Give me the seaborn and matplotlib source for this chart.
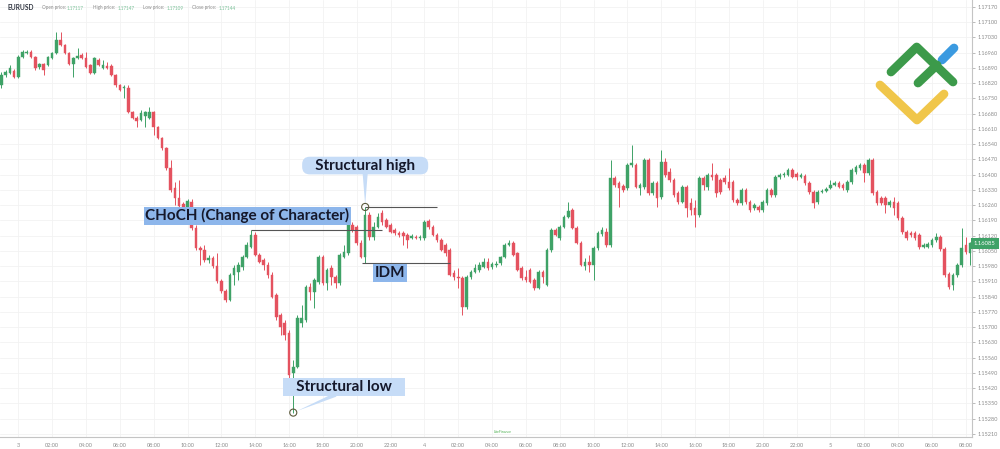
import numpy as np
import pandas as pd
import seaborn as sns
import matplotlib.pyplot as plt
from matplotlib.transforms import blended_transform_factory

# EURUSD 15-minute candles
opens = [
    1.16812, 1.16858, 1.16867, 1.16876, 1.16849, 1.16940, 1.16959, 1.16963, 1.16940, 1.16895,
    1.16909, 1.16904, 1.16936, 1.16959, 1.17018, 1.16995, 1.16959, 1.16909, 1.16936, 1.16950,
    1.16936, 1.16904, 1.16867, 1.16927, 1.16890, 1.16899, 1.16899, 1.16858, 1.16812, 1.16798,
    1.16798, 1.16688, 1.16660, 1.16651, 1.16669, 1.16660, 1.16688, 1.16619, 1.16568, 1.16523,
    1.16431, 1.16339, 1.16293, 1.16266, 1.16247, 1.16275, 1.16155, 1.16063, 1.16055, 1.16009,
    1.16018, 1.15981, 1.15912, 1.15866, 1.15825, 1.15940, 1.15954, 1.15977, 1.16023, 1.16068,
    1.16123, 1.16032, 1.16009, 1.15986, 1.15940, 1.15848, 1.15756, 1.15719, 1.15673, 1.15490,
    1.15518, 1.15719, 1.15733, 1.15885, 1.15862, 1.15908, 1.16023, 1.15903, 1.15972, 1.15931,
    1.15903, 1.16023, 1.16041, 1.16169, 1.16160, 1.16087, 1.16023, 1.16215, 1.16114, 1.16160,
    1.16224, 1.16192, 1.16169, 1.16146, 1.16132, 1.16132, 1.16123, 1.16109, 1.16114, 1.16109,
    1.16109, 1.16187, 1.16160, 1.16123, 1.16100, 1.16077, 1.16055, 1.15949, 1.15931, 1.15926,
    1.15793, 1.15931, 1.15954, 1.15963, 1.15977, 1.16000, 1.15977, 1.15986, 1.15995, 1.16023,
    1.16077, 1.16087, 1.16041, 1.15972, 1.15931, 1.15963, 1.15917, 1.15880, 1.15954, 1.15894,
    1.16055, 1.16146, 1.16109, 1.16160, 1.16206, 1.16238, 1.16155, 1.16087, 1.15981, 1.16000,
    1.15986, 1.16063, 1.16128, 1.16137, 1.16077, 1.16385, 1.16362, 1.16348, 1.16339, 1.16445,
    1.16445, 1.16339, 1.16344, 1.16468, 1.16316, 1.16362, 1.16298, 1.16458, 1.16413, 1.16376,
    1.16316, 1.16275, 1.16344, 1.16270, 1.16247, 1.16215, 1.16385, 1.16344, 1.16399, 1.16399,
    1.16376, 1.16385, 1.16367, 1.16367, 1.16284, 1.16270, 1.16330, 1.16275, 1.16247, 1.16252,
    1.16238, 1.16270, 1.16330, 1.16307, 1.16390, 1.16399, 1.16399, 1.16422, 1.16403, 1.16390,
    1.16394, 1.16362, 1.16321, 1.16275, 1.16321, 1.16325, 1.16339, 1.16353, 1.16362, 1.16353,
    1.16330, 1.16367, 1.16413, 1.16431, 1.16445, 1.16408, 1.16468, 1.16321, 1.16293, 1.16293,
    1.16261, 1.16275, 1.16270, 1.16201, 1.16137, 1.16132, 1.16132, 1.16123, 1.16068, 1.16068,
    1.16077, 1.16100, 1.16114, 1.16059, 1.15944, 1.15894, 1.15940, 1.15986, 1.16077, 1.16041,
]
highs = [
    1.16872, 1.16881, 1.16904, 1.16886, 1.16950, 1.16973, 1.16973, 1.16973, 1.16945, 1.16913,
    1.16913, 1.16945, 1.16963, 1.17055, 1.17055, 1.17000, 1.16963, 1.16940, 1.16982, 1.16959,
    1.16963, 1.16909, 1.16940, 1.16936, 1.16927, 1.16918, 1.16909, 1.16863, 1.16817, 1.16812,
    1.16812, 1.16692, 1.16669, 1.16697, 1.16692, 1.16711, 1.16692, 1.16623, 1.16573, 1.16527,
    1.16468, 1.16367, 1.16376, 1.16275, 1.16289, 1.16289, 1.16169, 1.16073, 1.16077, 1.16032,
    1.16027, 1.16041, 1.15921, 1.15875, 1.15949, 1.15986, 1.16000, 1.16032, 1.16091, 1.16146,
    1.16137, 1.16041, 1.16018, 1.16000, 1.15954, 1.15857, 1.15765, 1.15733, 1.15687, 1.15550,
    1.15756, 1.15802, 1.15894, 1.15903, 1.15926, 1.16032, 1.16032, 1.15972, 1.15986, 1.15940,
    1.16041, 1.16077, 1.16183, 1.16183, 1.16169, 1.16100, 1.16252, 1.16229, 1.16183, 1.16224,
    1.16238, 1.16201, 1.16178, 1.16155, 1.16141, 1.16141, 1.16132, 1.16128, 1.16123, 1.16123,
    1.16192, 1.16197, 1.16169, 1.16132, 1.16109, 1.16087, 1.16063, 1.15963, 1.15972, 1.15935,
    1.15940, 1.15963, 1.15991, 1.16000, 1.16018, 1.16018, 1.16000, 1.16004, 1.16027, 1.16087,
    1.16100, 1.16096, 1.16046, 1.15981, 1.15963, 1.15972, 1.15926, 1.15963, 1.15963, 1.16063,
    1.16155, 1.16155, 1.16169, 1.16215, 1.16275, 1.16247, 1.16164, 1.16096, 1.16018, 1.16032,
    1.16073, 1.16141, 1.16160, 1.16155, 1.16468, 1.16394, 1.16371, 1.16358, 1.16454, 1.16536,
    1.16454, 1.16362, 1.16477, 1.16477, 1.16371, 1.16371, 1.16514, 1.16477, 1.16431, 1.16385,
    1.16325, 1.16353, 1.16353, 1.16293, 1.16284, 1.16394, 1.16394, 1.16408, 1.16454, 1.16408,
    1.16385, 1.16399, 1.16431, 1.16376, 1.16293, 1.16339, 1.16339, 1.16284, 1.16270, 1.16261,
    1.16284, 1.16339, 1.16339, 1.16399, 1.16408, 1.16413, 1.16431, 1.16431, 1.16413, 1.16408,
    1.16403, 1.16371, 1.16330, 1.16330, 1.16335, 1.16344, 1.16376, 1.16371, 1.16371, 1.16362,
    1.16376, 1.16431, 1.16445, 1.16454, 1.16454, 1.16477, 1.16477, 1.16330, 1.16302, 1.16302,
    1.16284, 1.16298, 1.16279, 1.16210, 1.16146, 1.16141, 1.16141, 1.16132, 1.16087, 1.16091,
    1.16109, 1.16132, 1.16123, 1.16068, 1.15954, 1.15949, 1.15995, 1.16155, 1.16114, 1.16091,
]
lows = [
    1.16798, 1.16849, 1.16863, 1.16845, 1.16845, 1.16936, 1.16954, 1.16936, 1.16881, 1.16886,
    1.16858, 1.16899, 1.16931, 1.16954, 1.16991, 1.16954, 1.16904, 1.16849, 1.16931, 1.16931,
    1.16890, 1.16863, 1.16863, 1.16899, 1.16886, 1.16886, 1.16853, 1.16803, 1.16784, 1.16752,
    1.16683, 1.16656, 1.16619, 1.16646, 1.16619, 1.16656, 1.16582, 1.16564, 1.16514, 1.16422,
    1.16321, 1.16261, 1.16247, 1.16238, 1.16243, 1.16146, 1.16055, 1.15986, 1.16000, 1.15995,
    1.15972, 1.15903, 1.15857, 1.15816, 1.15820, 1.15894, 1.15917, 1.15963, 1.16018, 1.16063,
    1.16027, 1.15995, 1.15963, 1.15926, 1.15834, 1.15733, 1.15664, 1.15641, 1.15467, 1.15308,
    1.15513, 1.15701, 1.15724, 1.15825, 1.15788, 1.15899, 1.15894, 1.15871, 1.15894, 1.15880,
    1.15894, 1.16018, 1.16032, 1.16137, 1.16077, 1.16018, 1.15995, 1.16100, 1.16100, 1.16155,
    1.16169, 1.16155, 1.16132, 1.16123, 1.16114, 1.16077, 1.16063, 1.16105, 1.16105, 1.16100,
    1.16100, 1.16151, 1.16118, 1.16091, 1.16050, 1.16027, 1.15935, 1.15917, 1.15880, 1.15756,
    1.15784, 1.15922, 1.15949, 1.15954, 1.15972, 1.15963, 1.15968, 1.15977, 1.15986, 1.16018,
    1.16073, 1.16027, 1.15958, 1.15917, 1.15908, 1.15903, 1.15871, 1.15875, 1.15903, 1.15889,
    1.16046, 1.16118, 1.16100, 1.16155, 1.16201, 1.16151, 1.16082, 1.15981, 1.15963, 1.15954,
    1.15917, 1.16055, 1.16118, 1.16068, 1.16068, 1.16344, 1.16252, 1.16321, 1.16330, 1.16436,
    1.16339, 1.16307, 1.16335, 1.16307, 1.16307, 1.16252, 1.16289, 1.16390, 1.16367, 1.16298,
    1.16266, 1.16270, 1.16206, 1.16215, 1.16160, 1.16206, 1.16330, 1.16330, 1.16376, 1.16298,
    1.16312, 1.16358, 1.16330, 1.16275, 1.16261, 1.16261, 1.16266, 1.16229, 1.16238, 1.16229,
    1.16229, 1.16261, 1.16298, 1.16298, 1.16381, 1.16390, 1.16394, 1.16385, 1.16376, 1.16385,
    1.16353, 1.16312, 1.16247, 1.16266, 1.16316, 1.16321, 1.16335, 1.16348, 1.16339, 1.16330,
    1.16321, 1.16358, 1.16403, 1.16422, 1.16367, 1.16399, 1.16307, 1.16261, 1.16261, 1.16224,
    1.16252, 1.16215, 1.16192, 1.16128, 1.16100, 1.16114, 1.16100, 1.16059, 1.16063, 1.16063,
    1.16068, 1.16091, 1.16050, 1.15931, 1.15875, 1.15871, 1.15931, 1.15977, 1.16036, 1.15986,
]
closes = [
    1.16858, 1.16872, 1.16890, 1.16849, 1.16940, 1.16963, 1.16963, 1.16940, 1.16890, 1.16909,
    1.16881, 1.16940, 1.16959, 1.17018, 1.16995, 1.16959, 1.16909, 1.16936, 1.16945, 1.16936,
    1.16895, 1.16867, 1.16936, 1.16904, 1.16904, 1.16890, 1.16858, 1.16812, 1.16789, 1.16803,
    1.16688, 1.16660, 1.16646, 1.16683, 1.16688, 1.16688, 1.16619, 1.16568, 1.16523, 1.16431,
    1.16330, 1.16293, 1.16256, 1.16247, 1.16279, 1.16155, 1.16063, 1.16055, 1.16009, 1.16018,
    1.15981, 1.15912, 1.15866, 1.15825, 1.15940, 1.15972, 1.15986, 1.16023, 1.16077, 1.16123,
    1.16032, 1.16000, 1.15986, 1.15940, 1.15839, 1.15747, 1.15701, 1.15664, 1.15481, 1.15518,
    1.15742, 1.15742, 1.15885, 1.15862, 1.15917, 1.16023, 1.15903, 1.15963, 1.15931, 1.15903,
    1.16032, 1.16046, 1.16169, 1.16146, 1.16087, 1.16023, 1.16215, 1.16114, 1.16160, 1.16206,
    1.16183, 1.16160, 1.16137, 1.16132, 1.16123, 1.16118, 1.16100, 1.16118, 1.16109, 1.16114,
    1.16183, 1.16160, 1.16123, 1.16100, 1.16055, 1.16041, 1.15940, 1.15931, 1.15926, 1.15793,
    1.15931, 1.15954, 1.15972, 1.15986, 1.16000, 1.15972, 1.15991, 1.15991, 1.16023, 1.16077,
    1.16087, 1.16032, 1.15963, 1.15926, 1.15917, 1.15908, 1.15880, 1.15954, 1.15931, 1.16055,
    1.16146, 1.16123, 1.16160, 1.16206, 1.16233, 1.16155, 1.16087, 1.15986, 1.16000, 1.15986,
    1.16063, 1.16132, 1.16146, 1.16077, 1.16385, 1.16353, 1.16339, 1.16330, 1.16445, 1.16454,
    1.16344, 1.16353, 1.16468, 1.16316, 1.16362, 1.16293, 1.16458, 1.16399, 1.16376, 1.16307,
    1.16275, 1.16344, 1.16247, 1.16238, 1.16215, 1.16385, 1.16353, 1.16399, 1.16390, 1.16316,
    1.16321, 1.16367, 1.16339, 1.16284, 1.16270, 1.16330, 1.16275, 1.16238, 1.16261, 1.16238,
    1.16275, 1.16330, 1.16307, 1.16390, 1.16399, 1.16403, 1.16422, 1.16390, 1.16390, 1.16399,
    1.16362, 1.16321, 1.16270, 1.16321, 1.16325, 1.16335, 1.16353, 1.16362, 1.16344, 1.16339,
    1.16367, 1.16422, 1.16436, 1.16445, 1.16408, 1.16468, 1.16316, 1.16270, 1.16270, 1.16261,
    1.16275, 1.16247, 1.16201, 1.16137, 1.16109, 1.16123, 1.16109, 1.16068, 1.16077, 1.16082,
    1.16100, 1.16114, 1.16059, 1.15940, 1.15885, 1.15940, 1.15986, 1.16063, 1.16046, 1.16085,
]

x_tick_labels = ["3", "02:00", "04:00", "06:00", "08:00", "10:00", "12:00", "14:00",
                 "16:00", "18:00", "20:00", "22:00", "4", "02:00", "04:00", "06:00",
                 "08:00", "10:00", "12:00", "14:00", "16:00", "18:00", "20:00", "22:00",
                 "5", "02:00", "04:00", "06:00", "08:00"]
y_ticks = [1.15210, 1.15280, 1.15350, 1.15420, 1.15490, 1.15560, 1.15630, 1.15700,
           1.15770, 1.15840, 1.15910, 1.15980, 1.16050, 1.16120, 1.16190, 1.16260,
           1.16330, 1.16400, 1.16470, 1.16540, 1.16610, 1.16680, 1.16750, 1.16820,
           1.16890, 1.16960, 1.17030, 1.17100, 1.17170]
header_names = ["Open price:", "High price:", "Low price:", "Close price:"]
header_values = ["1.17117", "1.17147", "1.17109", "1.17144"]

sns.set_theme(style="white")
plt.rcParams['font.family'] = ['Lato', 'DejaVu Sans']

df = pd.DataFrame({'open': opens, 'high': highs, 'low': lows, 'close': closes})
df['i'] = np.arange(len(df))
green, red = '#3fa267', '#e4525f'
df['color'] = np.where(df['close'] >= df['open'], green, red)

fig = plt.figure(figsize=(10, 4.49), dpi=100)
ax = fig.add_axes([0, 12 / 449, 0.972, 437 / 449])

# candles
ax.vlines(df['i'], df['low'], df['high'], colors=df['color'], lw=0.7, zorder=2)
ax.bar(df['i'], df['close'] - df['open'], bottom=df['open'], width=0.62,
       color=df['color'], edgecolor=df['color'], linewidth=0.3, zorder=3)

ax.set_xlim(-0.33, 229.46)
ax.set_ylim(1.15196, 1.17202)
ax.set_xticks(4 + 8 * np.arange(len(x_tick_labels)))
ax.set_xticklabels(x_tick_labels)
ax.set_yticks(y_ticks)
ax.set_yticklabels([f"{v:.5f}" for v in y_ticks])
ax.yaxis.tick_right()
ax.grid(True, color='#f2f2f2', lw=0.6)
ax.set_axisbelow(True)
for s in ['top', 'left']:
    ax.spines[s].set_visible(False)
for s in ['right', 'bottom']:
    ax.spines[s].set_color('#c4c4c4')
    ax.spines[s].set_linewidth(0.8)
ax.tick_params(axis='both', labelsize=4, colors='#a0a0a0', length=2.5, width=0.5, pad=1.5)
ax.tick_params(axis='y', labelcolor='#8c8c8c')
ax.tick_params(axis='x', labelcolor='#8c8c8c')

# structure levels
hi_i, lo_i, ch_i = 86, 69, 59
ax.hlines(highs[ch_i], ch_i, 90, color='#555555', lw=0.8, zorder=4)
ax.hlines(highs[hi_i], hi_i, 103, color='#555555', lw=0.8, zorder=4)
ax.hlines(lows[hi_i], hi_i - 0.7, 106, color='#555555', lw=0.8, zorder=4)
ax.scatter([hi_i, lo_i], [highs[hi_i], lows[lo_i]], s=26, facecolors='none',
           edgecolors='#5c5a3c', linewidths=0.8, zorder=6)

light, mid = '#c6dcf7', '#8db6eb'
lab_kw = dict(fontsize=11, fontweight='bold', color='#15182b', zorder=7)
ax.text(86, 1.16442, "   Structural high   ", ha='center', va='center',
        bbox=dict(boxstyle='round,pad=0.12,rounding_size=0.5', fc=light, ec='none'), **lab_kw)
ax.annotate('', xy=(hi_i, highs[hi_i] + 0.00008), xytext=(86, 1.16404),
            arrowprops=dict(arrowstyle='wedge,tail_width=0.3', fc=light, ec='none',
                            shrinkA=0, shrinkB=0), zorder=5)
ax.text(58.1, 1.16211, "CHoCH (Change of Character)", ha='center', va='center',
        bbox=dict(boxstyle='square,pad=0.1', fc=mid, ec='none'), **lab_kw)
ax.text(91.9, 1.15949, "IDM", ha='center', va='center',
        bbox=dict(boxstyle='square,pad=0.12', fc=mid, ec='none'), **lab_kw)
ax.text(81.0, 1.15426, "   Structural low   ", ha='center', va='center',
        bbox=dict(boxstyle='square,pad=0.12', fc=light, ec='none'), **lab_kw)
ax.annotate('', xy=(lo_i, lows[lo_i]), xytext=(79, 1.15390),
            arrowprops=dict(arrowstyle='wedge,tail_width=0.25', fc=light, ec='none',
                            shrinkA=0, shrinkB=3), zorder=5)

# last price tag
tr = blended_transform_factory(ax.transAxes, ax.transData)
ax.text(1.002, closes[-1], f"{closes[-1]:.5f}", transform=tr, ha='left', va='center',
        fontsize=4.2, color='white', clip_on=False, zorder=8,
        bbox=dict(boxstyle='square,pad=0.5', fc=green, ec='none'))

# header
fig.text(0.007, 1 - 8 / 449, "EURUSD", fontsize=4.8, fontweight='bold', color='#2f3440',
         va='center')
name_x = [0.0417, 0.0933, 0.1433, 0.1923]
val_x = [0.0667, 0.1177, 0.1667, 0.2187]
for nx, vx, n, v in zip(name_x, val_x, header_names, header_values):
    fig.text(nx, 1 - 8 / 449, n, fontsize=3.3, color='#8a8a8a', va='center')
    fig.text(vx, 1 - 8 / 449, v, fontsize=3.3, color='#7cc29a', va='center')

# watermark logo
lg = fig.add_axes([0.870, 1 - 130 / 449, 0.095, 90 / 449])
lg.set_xlim(870, 965)
lg.set_ylim(130, 40)
lg.axis('off')
lw_logo = 6.3
lg.plot([880, 917, 944], [85, 120, 94], color='#f0c64a', lw=lw_logo, solid_capstyle='round',
        solid_joinstyle='round')
lg.plot([942, 954], [60, 48], color='#3b9ae0', lw=lw_logo, solid_capstyle='round')
lg.plot([891, 916.7, 953], [72, 47, 82], color='#3c9a4a', lw=lw_logo, solid_capstyle='round',
        solid_joinstyle='round')
lg.plot([918, 937], [83, 65], color='#3c9a4a', lw=lw_logo, solid_capstyle='round')

fig.text(0.503, 1 - 432 / 449, "LiteFinance", fontsize=2.5, color='#4caf50',
         ha='center', va='center')

fig.savefig('out.png', dpi=100)
